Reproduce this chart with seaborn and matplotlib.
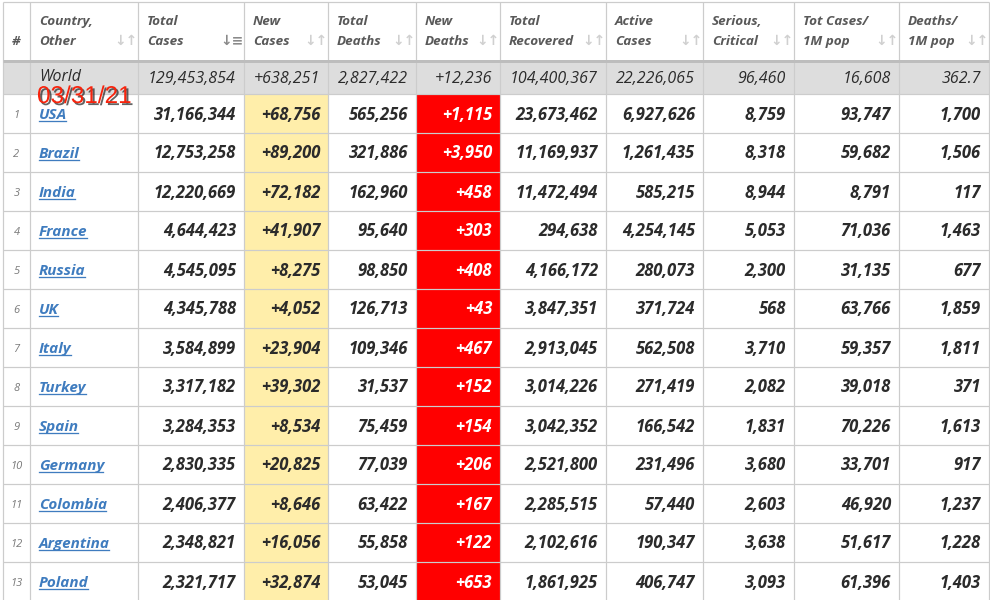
import numpy as np
import matplotlib
matplotlib.use("Agg")
import matplotlib.pyplot as plt
import matplotlib.patheffects as pe
from matplotlib.colors import ListedColormap
import seaborn as sns

# ---------------- data ----------------
headers = ["#", "Country,\nOther", "Total\nCases", "New\nCases", "Total\nDeaths",
           "New\nDeaths", "Total\nRecovered", "Active\nCases", "Serious,\nCritical",
           "Tot Cases/\n1M pop", "Deaths/\n1M pop"]
countries = ["USA", "Brazil", "India", "France", "Russia", "UK", "Italy", "Turkey",
             "Spain", "Germany", "Colombia", "Argentina", "Poland"]
total_cases = [31166344, 12753258, 12220669, 4644423, 4545095, 4345788, 3584899,
               3317182, 3284353, 2830335, 2406377, 2348821, 2321717]
new_cases = [68756, 89200, 72182, 41907, 8275, 4052, 23904, 39302, 8534, 20825,
             8646, 16056, 32874]
total_deaths = [565256, 321886, 162960, 95640, 98850, 126713, 109346, 31537, 75459,
                77039, 63422, 55858, 53045]
new_deaths = [1115, 3950, 458, 303, 408, 43, 467, 152, 154, 206, 167, 122, 653]
total_recovered = [23673462, 11169937, 11472494, 294638, 4166172, 3847351, 2913045,
                   3014226, 3042352, 2521800, 2285515, 2102616, 1861925]
active_cases = [6927626, 1261435, 585215, 4254145, 280073, 371724, 562508, 271419,
                166542, 231496, 57440, 190347, 406747]
serious_critical = [8759, 8318, 8944, 5053, 2300, 568, 3710, 2082, 1831, 3680, 2603,
                    3638, 3093]
cases_per_1m = [93747, 59682, 8791, 71036, 31135, 63766, 59357, 39018, 70226, 33701,
                46920, 51617, 61396]
deaths_per_1m = [1700, 1506, 117, 1463, 677, 1859, 1811, 371, 1613, 917, 1237, 1228,
                 1403]
world_label = "World"
world_values = ["129,453,854", "+638,251", "2,827,422", "+12,236", "104,400,367",
                "22,226,065", "96,460", "16,608", "362.7"]
date_label = "03/31/21"

# ---------------- layout ----------------
W, H = 990, 600
col_edges = [3, 30, 138, 244, 328, 416, 500, 606, 703, 794, 899, 989]
top_y = 2
header_bottom = 61
world_bottom = 94
row_h = 39
n_rows = len(countries)

TXT = "#2b2b2b"
HDR = "#595959"
GRID = "#cccccc"
BLUE = "#3f7cbf"
YELLOW = "#ffeeaa"
RED = "#ff0000"
GRAY = "#dddddd"

FONT = ["Open Sans", "DejaVu Sans"]

# cell background codes at pixel resolution (0 white, 1 yellow, 2 red, 3 gray)
xs = np.arange(W) + 0.5
ys = np.arange(H) + 0.5
col_idx = np.searchsorted(col_edges, xs) - 1
codes = np.zeros((H, W), dtype=int)
world_rows = (ys >= header_bottom) & (ys < world_bottom)
body_rows = ys >= world_bottom
inside = (xs >= col_edges[0]) & (xs < col_edges[-1])
codes[np.ix_(world_rows, inside)] = 3
codes[np.ix_(body_rows, col_idx == 3)] = 1
codes[np.ix_(body_rows, col_idx == 5)] = 2

fig = plt.figure(figsize=(9.9, 6.0), dpi=100)
ax = fig.add_axes([0, 0, 1, 1])
cmap = ListedColormap(["#ffffff", YELLOW, RED, GRAY])
sns.heatmap(codes, cmap=cmap, vmin=-0.5, vmax=3.5, cbar=False, ax=ax,
            xticklabels=False, yticklabels=False, rasterized=True)
ax.set_xlim(0, W)
ax.set_ylim(H, 0)
ax.axis("off")

# grid lines
px = 0.72  # one pixel in points
ax.vlines(col_edges, top_y, H, colors=GRID, linewidth=1.2 * px, zorder=3)
row_lines = [top_y] + [world_bottom + row_h * k for k in range(n_rows)]
ax.hlines(row_lines, col_edges[0], col_edges[-1], colors=GRID, linewidth=1.2 * px,
          zorder=3)
ax.hlines([header_bottom - 0.5], col_edges[0], col_edges[-1], colors="#bdbdbd",
          linewidth=3 * px, zorder=3)

# header texts
for j, h in enumerate(headers):
    left, right = col_edges[j], col_edges[j + 1]
    if j == 0:
        ax.text((left + right) / 2, 45, h, ha="center", va="baseline",
                fontsize=9.7, fontweight="bold", fontstyle="italic",
                color=HDR, family=FONT, zorder=4)
        continue
    l1, l2 = h.split("\n")
    ax.text(left + 9, 25, l1, ha="left", va="baseline", fontsize=9.7,
            fontweight="bold", fontstyle="italic", color=HDR, family=FONT, zorder=4)
    ax.text(left + 9, 45, l2, ha="left", va="baseline", fontsize=9.7,
            fontweight="bold", fontstyle="italic", color=HDR, family=FONT, zorder=4)
    icon_col = "#8a8a8a" if j == 2 else "#d0d0d0"
    icon = "↓≡" if j == 2 else "↓↑"
    ax.text(right - 12, 45, icon, ha="center", va="baseline", fontsize=10,
            fontweight="bold", color=icon_col, family=["DejaVu Sans"], zorder=4)

# world row
wy = (header_bottom + world_bottom) / 2 + 5.5
ax.text(col_edges[1] + 9, wy - 2, world_label, ha="left", va="baseline", fontsize=11.4,
        fontstyle="italic", color=TXT, family=FONT, zorder=4)
for k, v in enumerate(world_values):
    ax.text(col_edges[k + 3] - 8, wy, v, ha="right", va="baseline", fontsize=11.5,
            fontstyle="italic", color=TXT, family=FONT, zorder=4)

# body rows
columns = [total_cases, new_cases, total_deaths, new_deaths, total_recovered,
           active_cases, serious_critical, cases_per_1m, deaths_per_1m]
plus_cols = {1, 3}
country_texts = []
for i, name in enumerate(countries):
    cy = world_bottom + row_h * i + row_h / 2
    by = cy + 5.5
    ax.text((col_edges[0] + col_edges[1]) / 2, by - 1, str(i + 1), ha="center",
            va="baseline", fontsize=8, fontstyle="italic", color="#7a7a7a",
            family=FONT, zorder=4)
    t = ax.text(col_edges[1] + 9, by, name, ha="left", va="baseline", fontsize=11,
                fontweight="bold", fontstyle="italic", color=BLUE, family=FONT,
                zorder=4)
    country_texts.append((t, by))
    for k, col in enumerate(columns):
        s = f"{col[i]:,}"
        if k in plus_cols:
            s = "+" + s
        color = "white" if k == 3 else TXT
        ax.text(col_edges[k + 3] - 8, by + 0.5, s, ha="right", va="baseline",
                fontsize=12, fontweight="bold", fontstyle="italic", color=color,
                family=FONT, zorder=4)

# underline country names
fig.canvas.draw()
renderer = fig.canvas.get_renderer()
inv = ax.transData.inverted()
for t, by in country_texts:
    bb = t.get_window_extent(renderer)
    (x0, _), (x1, _) = inv.transform([[bb.x0, bb.y0], [bb.x1, bb.y1]])
    ax.plot([x0, x1 - 1], [by + 2, by + 2], color=BLUE, linewidth=1.3 * px, zorder=4)

# date overlay
ax.text(37, 103, date_label, ha="left", va="baseline", fontsize=17.5,
        color="#f8230c", family=["Liberation Sans", "DejaVu Sans"],
        zorder=6,
        path_effects=[pe.SimplePatchShadow(offset=(1.5, -1.5), shadow_rgbFace="#222222",
                                           alpha=0.7), pe.Normal()])

fig.savefig("out.png", dpi=100)
